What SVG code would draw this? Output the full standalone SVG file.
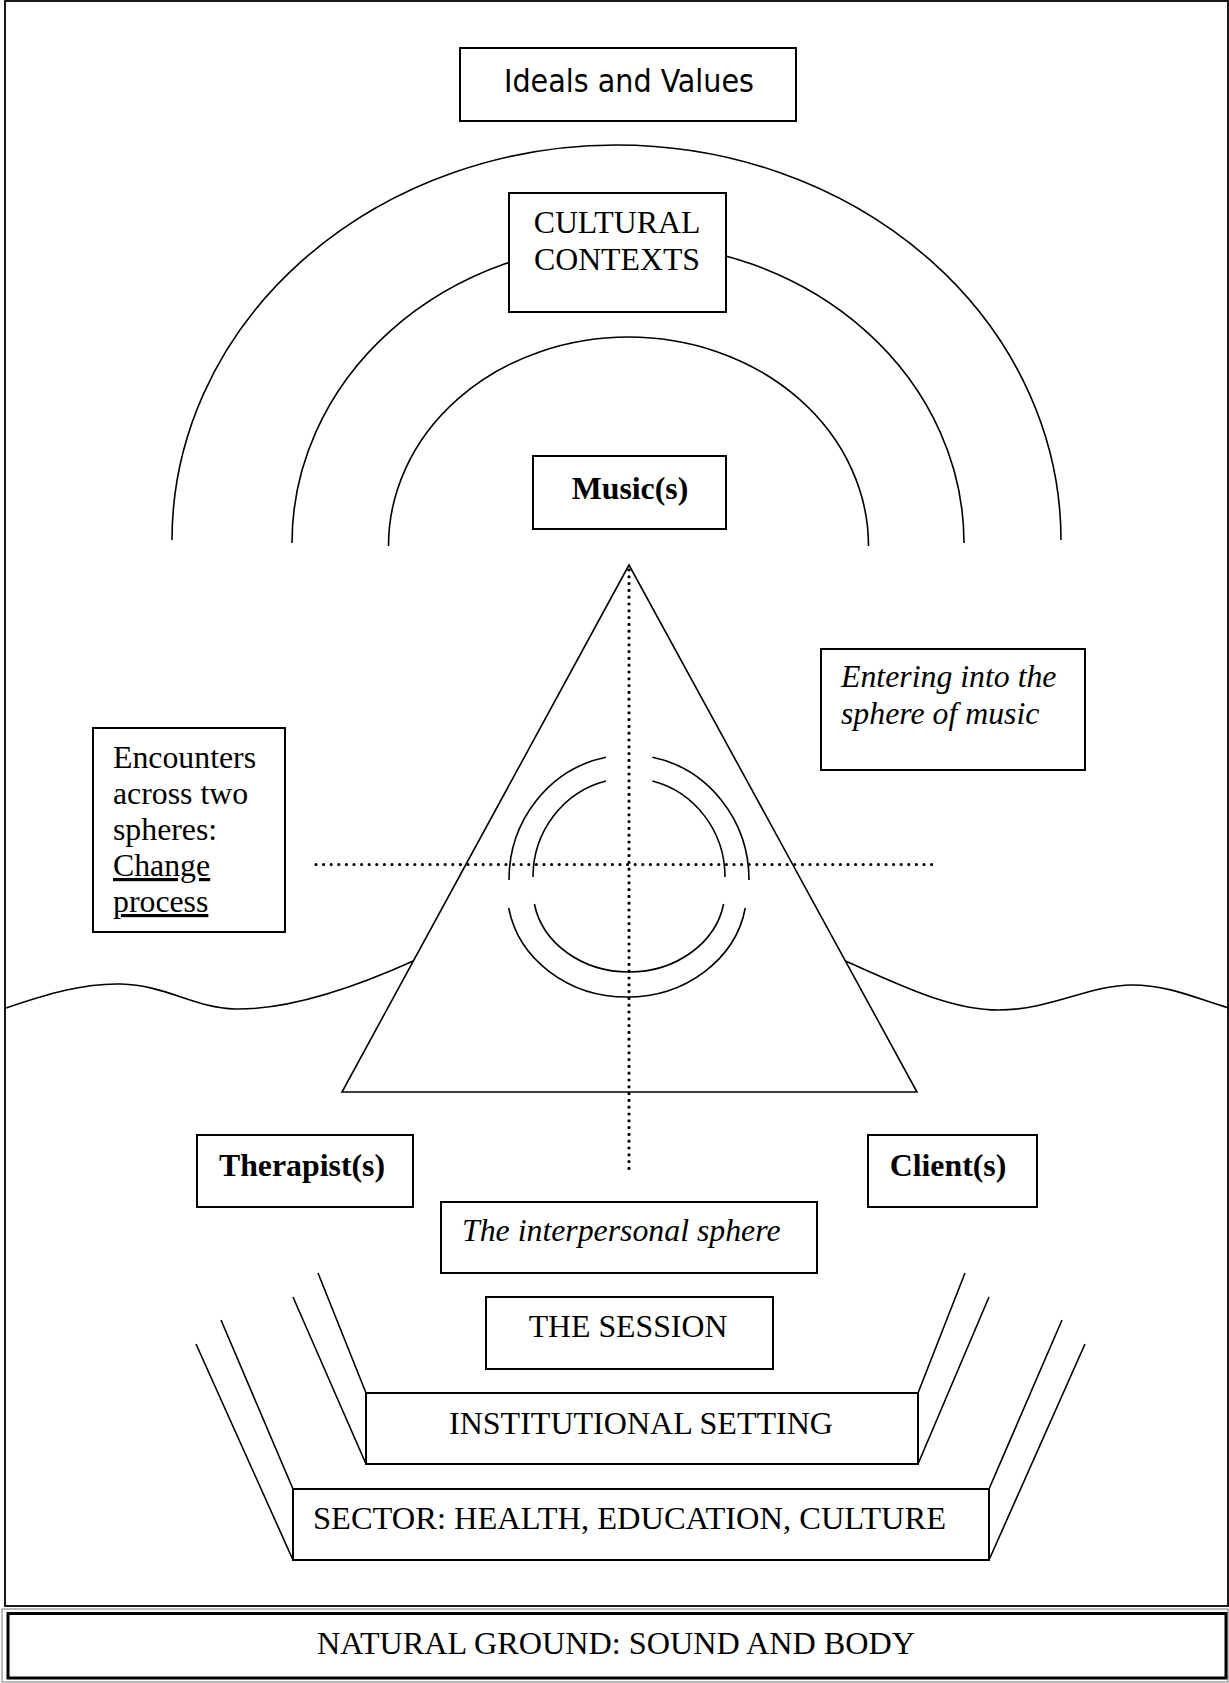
<svg xmlns="http://www.w3.org/2000/svg" width="1229" height="1683" viewBox="0 0 1229 1683">
<style>
.bx{fill:#fff;stroke:#000;stroke-width:2}
.ln{fill:none;stroke:#000;stroke-width:1.6}
.dot{fill:none;stroke:#000;stroke-width:3.2;stroke-linecap:round}
.t{font-family:"Liberation Serif","Times New Roman",serif;font-size:31.8px;fill:#000}
.c{text-anchor:middle}
.b{font-weight:bold}
.i{font-style:italic}
.s{font-family:"DejaVu Sans Condensed","DejaVu Sans",sans-serif;font-stretch:condensed;font-size:32px;fill:#000;text-anchor:middle}
</style>
<rect width="1229" height="1683" fill="#fff"/>
<g id="frame">
<rect x="5" y="1" width="1223" height="1605" fill="none" stroke="#000" stroke-width="1.8"/>
</g>
<g id="connectors">
<path class="ln" d="M 172 540 A 444.5 395 0 0 1 1061 540"/>
<path class="ln" d="M 292 543 A 336 300 0 0 1 964 543"/>
<path class="ln" d="M 388.5 546 A 240 209 0 0 1 868.5 546"/>
<path class="ln" d="M 6 1008 C 50 993 85 983 121 984 C 165 985 195 1008 235 1009 C 290 1010 360 985 413.3 961"/>
<path class="ln" d="M 845.4 961 C 900 985 950 1010 999 1010 C 1050 1010 1090 985 1132 985 C 1170 985 1200 1000 1229 1008"/>
<path class="ln" d="M 318 1273 L 366 1393 M 293 1297 L 366 1464 M 965 1273 L 918 1393 M 989 1297 L 918 1464"/>
<path class="ln" d="M 221 1320 L 293 1489 M 196 1344 L 293 1560 M 1062 1320 L 989 1489 M 1085 1344 L 989 1560"/>
</g>
<g id="triangle">
<polygon points="629,565 342,1092 917,1092" fill="none" stroke="#000" stroke-width="1.6"/>
</g>
<g id="rings">
<path class="ln" d="M 606 757.3 A 120 125 0 0 0 509 880"/>
<path class="ln" d="M 652.4 757.3 A 120 125 0 0 1 749 880"/>
<path class="ln" d="M 606 781 A 96 99 0 0 0 533 877"/>
<path class="ln" d="M 652.4 781 A 96 99 0 0 1 725 877"/>
<path class="ln" d="M 508.7 908 A 120 107 0 0 0 745.3 908"/>
<path class="ln" d="M 534.4 904 A 96 82 0 0 0 723.6 904"/>
</g>
<g id="axes">
<line class="dot" x1="629" y1="570" x2="629" y2="1172" stroke-dasharray="0 6.8"/>
<line class="dot" x1="316" y1="864.5" x2="935" y2="864.5" stroke-dasharray="0 7.6"/>
</g>
<g id="ideals">
<rect class="bx" x="460" y="48" width="336" height="73"/>
<text class="s" x="629" y="92" textLength="250" lengthAdjust="spacingAndGlyphs">Ideals and Values</text>
</g>
<g id="cultural">
<rect class="bx" x="509" y="193" width="217" height="119"/>
<text class="t c" x="617" y="233">CULTURAL</text>
<text class="t c" x="617" y="270">CONTEXTS</text>
</g>
<g id="music">
<rect class="bx" x="533" y="456" width="193" height="73"/>
<text class="t c b" x="630" y="499">Music(s)</text>
</g>
<g id="entering">
<rect class="bx" x="821" y="649" width="264" height="121"/>
<text class="t i" x="841" y="687">Entering into the</text>
<text class="t i" x="841" y="724">sphere of music</text>
</g>
<g id="encounters">
<rect class="bx" x="93" y="728" width="192" height="204"/>
<text class="t" x="113" y="768">Encounters</text>
<text class="t" x="113" y="804">across two</text>
<text class="t" x="113" y="840">spheres:</text>
<text class="t" x="113" y="876" text-decoration="underline">Change</text>
<text class="t" x="113" y="912" text-decoration="underline">process</text>
</g>
<g id="therapist">
<rect class="bx" x="197" y="1135" width="216" height="72"/>
<text class="t c b" x="302" y="1176">Therapist(s)</text>
</g>
<g id="client">
<rect class="bx" x="868" y="1135" width="169" height="72"/>
<text class="t c b" x="948" y="1176">Client(s)</text>
</g>
<g id="interpersonal">
<rect class="bx" x="441" y="1202" width="376" height="71"/>
<text class="t i" x="462" y="1241">The interpersonal sphere</text>
</g>
<g id="session">
<rect class="bx" x="486" y="1297" width="287" height="72"/>
<text class="t c" x="628" y="1337">THE SESSION</text>
</g>
<g id="institutional">
<rect class="bx" x="366" y="1393" width="552" height="71"/>
<text class="t c" x="641" y="1434" textLength="384" lengthAdjust="spacingAndGlyphs">INSTITUTIONAL SETTING</text>
</g>
<g id="sector">
<rect class="bx" x="293" y="1489" width="696" height="71"/>
<text class="t" x="313" y="1529" textLength="633" lengthAdjust="spacingAndGlyphs">SECTOR: HEALTH, EDUCATION, CULTURE</text>
</g>
<g id="natural">
<rect x="2" y="1609" width="1226" height="73" fill="#fff" stroke="#777" stroke-width="1"/>
<rect x="8" y="1613.5" width="1218" height="64.5" fill="none" stroke="#000" stroke-width="3"/>
<text class="t c" x="616" y="1654" textLength="598" lengthAdjust="spacingAndGlyphs">NATURAL GROUND: SOUND AND BODY</text>
</g>
</svg>
